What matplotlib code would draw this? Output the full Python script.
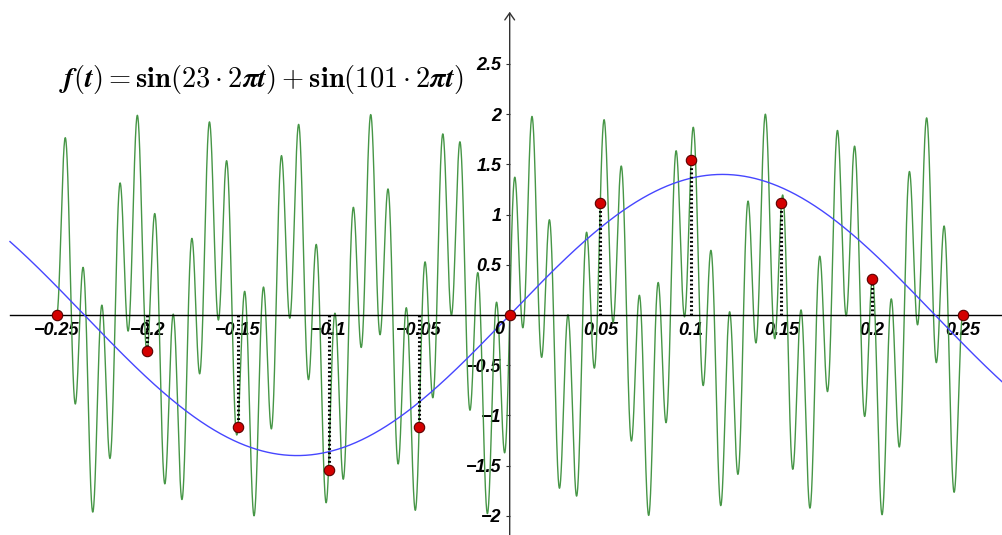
import numpy as np
import matplotlib.pyplot as plt

# signal components (Hz) of f(t), as printed in the chart title
signal_freqs = [23, 101]

# slow blue sine: amplitude and frequency
alias_amp = 1.4
alias_freq = 2.13

# samples every 0.05 s (red points)
sample_t = [-0.25, -0.2, -0.15, -0.1, -0.05, 0.0, 0.05, 0.1, 0.15, 0.2, 0.25]
sample_y = [0.0, -0.36, -1.12, -1.54, -1.12, 0.0, 1.12, 1.54, 1.12, 0.36, 0.0]

xticks = [-0.25, -0.2, -0.15, -0.1, -0.05, 0.05, 0.1, 0.15, 0.2, 0.25]
xticklabels = ['\u22120.25', '\u22120.2', '\u22120.15', '\u22120.1', '\u22120.05',
               '0.05', '0.1', '0.15', '0.2', '0.25']
yticks = [-2, -1.5, -1, -0.5, 0.5, 1, 1.5, 2, 2.5]
yticklabels = ['\u22122', '\u22121.5', '\u22121', '\u22120.5', '0.5', '1', '1.5', '2', '2.5']

x_left, x_right = -0.2813, 0.2717
y_bottom, y_top = -2.191, 3.137
t_start = -0.2758

# f(t) is drawn on [-0.25, 0.25], the blue sine across the whole view
t = np.linspace(sample_t[0], sample_t[-1], 8000)
f = sum(np.sin(k * 2 * np.pi * t) for k in signal_freqs)
tb = np.linspace(t_start, x_right, 2000)
g = alias_amp * np.sin(2 * np.pi * alias_freq * tb)

plt.rcParams['mathtext.fontset'] = 'cm'

fig = plt.figure(figsize=(10.02, 5.35), dpi=100)
ax = fig.add_axes([0, 0, 1, 1])
ax.set_xlim(x_left, x_right)
ax.set_ylim(y_bottom, y_top)

ax.plot(t, f, color='#469646', lw=1.0, zorder=2)
ax.plot(tb, g, color='#4646ff', lw=1.0, zorder=3)
for tx, ty in zip(sample_t, sample_y):
    ax.plot([tx, tx], [0, ty], color='black', lw=2.2, linestyle=(0, (0.6, 0.8)), zorder=4)
ax.plot(sample_t, sample_y, 'o', color='#d40000', markeredgecolor='#5a0000',
        markeredgewidth=0.8, markersize=7.5, zorder=5)

# axes through the origin
for s in ['top', 'right']:
    ax.spines[s].set_visible(False)
ax.spines['bottom'].set_position(('data', 0))
ax.spines['left'].set_position(('data', 0))
ax.spines['bottom'].set_bounds(t_start, x_right)
ax.spines['left'].set_visible(False)
ax.spines['bottom'].set_linewidth(1.0)
ax.annotate('', xy=(0, 3.02), xytext=(0, y_bottom),
            arrowprops=dict(arrowstyle='->,head_length=0.5,head_width=0.35',
                            color='#333333', lw=1.0, shrinkA=0, shrinkB=0))

tick_font = dict(family='Liberation Sans', weight='bold', style='italic', size=13)
ax.set_xticks(xticks)
ax.set_xticklabels(xticklabels, **tick_font)
ax.set_yticks(yticks)
ax.set_yticklabels(yticklabels, **tick_font)
ax.tick_params(axis='x', direction='out', length=0, pad=5)
ax.tick_params(axis='y', direction='out', length=3, pad=3, color='#333333')
ax.text(-0.006, -0.06, '0', ha='center', va='top', **tick_font)

title = (r'$\boldsymbol{f}\mathbf{(}\boldsymbol{t}\mathbf{)} = '
         r'\mathbf{sin(23} \cdot \mathbf{2}\boldsymbol{\pi t}\mathbf{)} + '
         r'\mathbf{sin(101} \cdot \mathbf{2}\boldsymbol{\pi t}\mathbf{)}$')
ax.text(-0.2485, 2.35, title, fontsize=20.5, ha='left', va='center')

fig.savefig('out.png', dpi=100)
